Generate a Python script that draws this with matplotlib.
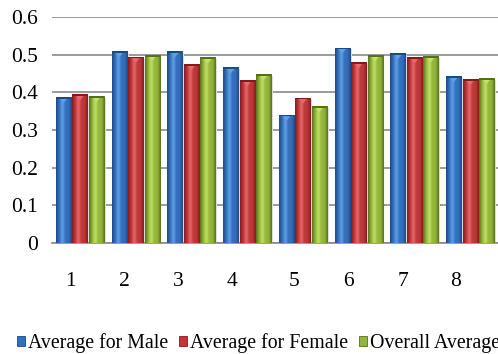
import numpy as np
import matplotlib
matplotlib.use("Agg")
import matplotlib.pyplot as plt
from matplotlib.colors import LinearSegmentedColormap
from matplotlib.patches import Polygon, Rectangle

groups = ["1", "2", "3", "4", "5", "6", "7", "8"]
male = [0.387, 0.509, 0.509, 0.466, 0.340, 0.519, 0.504, 0.443]
female = [0.395, 0.494, 0.475, 0.432, 0.386, 0.480, 0.493, 0.435]
overall = [0.390, 0.499, 0.493, 0.448, 0.363, 0.498, 0.496, 0.438]
series_names = ["Average for Male", "Average for Female", "Overall Average"]
yticks = [0, 0.1, 0.2, 0.3, 0.4, 0.5, 0.6]
ytick_labels = ["0", "0.1", "0.2", "0.3", "0.4", "0.5", "0.6"]
# label offsets of the category labels relative to group centres (as in original)
label_offsets = [-0.16, -0.20, -0.23, -0.27, -0.16, -0.18, -0.20, -0.27]

colors = [("#1c4884", "#326fbd", "#62a0e6"),
          ("#821a1c", "#c0373a", "#e86a6a"),
          ("#566f1c", "#92b53a", "#c3e068")]

plt.rcParams["font.family"] = ["Liberation Serif", "DejaVu Serif"]

fig = plt.figure(figsize=(4.98, 3.54), dpi=100)
L = 52 / 498
B = 1 - 243 / 354
T = 1 - 17 / 354
ax = fig.add_axes([L, B, 1.0 - L, T - B])

x = np.arange(len(groups))
w = 0.27
step = 0.295
data = [male, female, overall]
ax.set_xlim(-0.5, 7.5)
ax.set_ylim(0, 0.6)

for s, vals in enumerate(data):
    dark, mid, light = colors[s]
    cmap = LinearSegmentedColormap.from_list(
        "c%d" % s, [dark, mid, light, mid, mid, dark])
    bars = ax.bar(x + (s - 1) * step, vals, width=w, color=mid,
                  edgecolor=dark, linewidth=0.6, zorder=3, label=series_names[s])
    grad = np.linspace(0, 1, 64).reshape(1, -1)
    for b in bars:
        bx, by = b.get_x(), b.get_y()
        bw, bh = b.get_width(), b.get_height()
        # faint shadow
        ax.add_patch(Rectangle((bx + bw, 0), bw * 0.12, bh * 0.99,
                               color="#dcdcdc", zorder=2, linewidth=0))
        im = ax.imshow(grad, extent=(bx, bx + bw, by, by + bh), cmap=cmap,
                       aspect="auto", zorder=3.5, interpolation="bicubic")
        im.set_clip_path(b)
        # top highlight triangle
        tri = Polygon([(bx + bw * 0.25, bh - 0.004), (bx + bw * 0.75, bh - 0.004),
                       (bx + bw * 0.5, bh - 0.016)], closed=True,
                      color=light, zorder=4, linewidth=0)
        ax.add_patch(tri)
        ax.add_patch(Rectangle((bx, bh - 0.004), bw, 0.004, color=dark,
                               zorder=4, linewidth=0))

ax.set_yticks(yticks)
ax.set_yticklabels(ytick_labels, fontsize=15.5)
ax.yaxis.grid(True, color="#8a8a8a", linewidth=1.2, zorder=0)
ax.set_axisbelow(True)
ax.set_xticks(x + np.array(label_offsets))
ax.set_xticklabels(groups, fontsize=15.5)
ax.tick_params(axis="both", length=0)
ax.tick_params(axis="y", pad=10)
ax.tick_params(axis="x", pad=21)
for sp in ["top", "right", "left"]:
    ax.spines[sp].set_visible(False)
ax.spines["bottom"].set_color("#8a8a8a")
ax.spines["bottom"].set_linewidth(1.2)

handles = [Rectangle((0, 0), 1, 1, facecolor=c[1], edgecolor=c[0], linewidth=0.6)
           for c in colors]
fig.legend(handles, series_names, loc="center left",
           bbox_to_anchor=(17 / 498, 1 - 343 / 354), ncol=3, frameon=False,
           fontsize=14.3, handlelength=0.4, handleheight=0.4,
           handletextpad=0.15, columnspacing=0.55, borderpad=0, borderaxespad=0)

fig.savefig("out.png", dpi=100)
